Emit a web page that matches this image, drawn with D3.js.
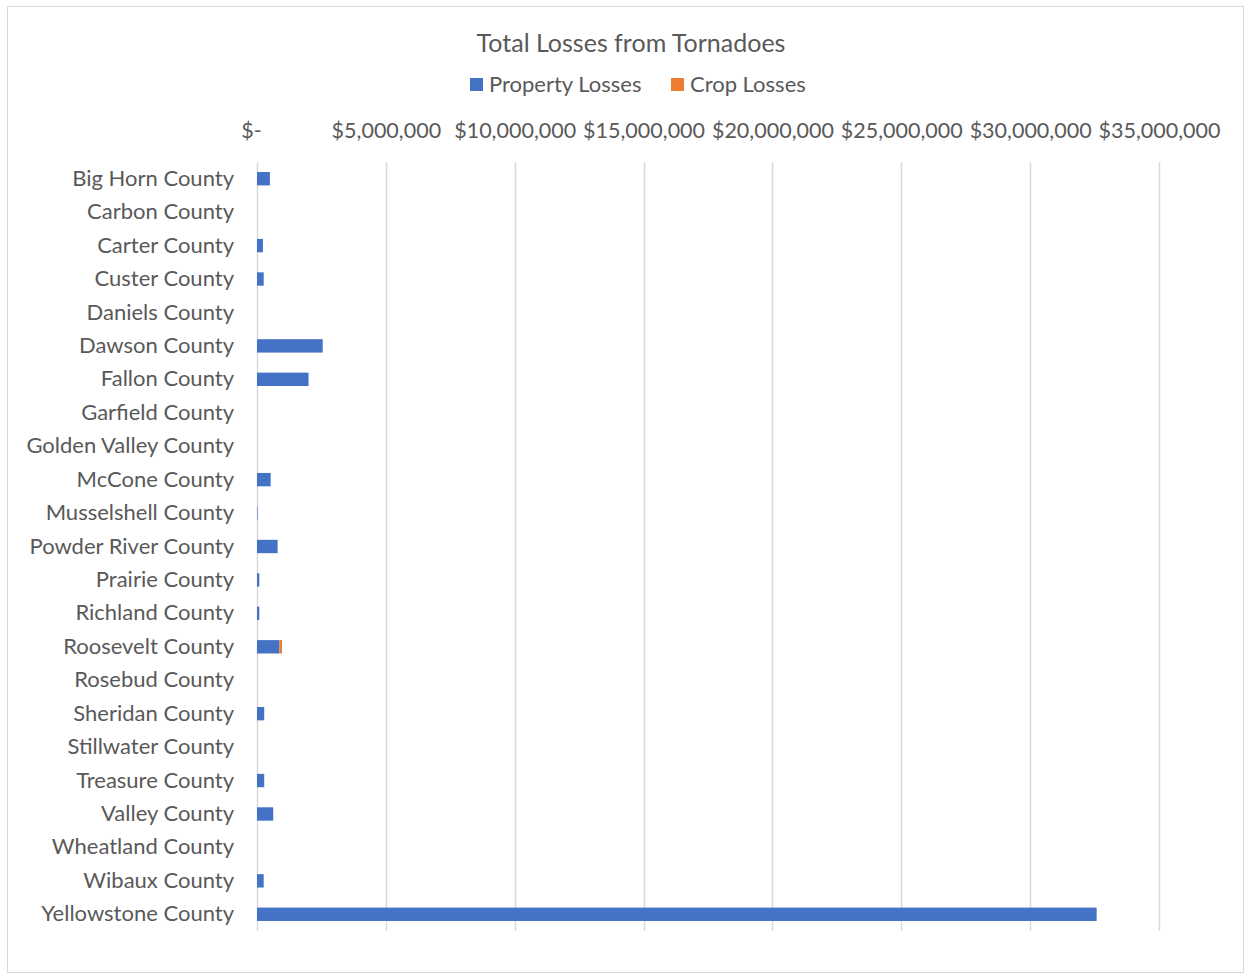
<!DOCTYPE html>
<html>
<head>
<meta charset="utf-8">
<script src="https://cdn.jsdelivr.net/npm/d3@7"></script>
<style>
  body { margin: 0; background: #fff; }
  svg { display: block; }
  text { font-family: "Lato", "Open Sans", sans-serif; fill: #595959; }
</style>
</head>
<body>
<svg id="chart" width="1250" height="979"></svg>
<script>
const categories = ["Big Horn County","Carbon County","Carter County","Custer County","Daniels County","Dawson County","Fallon County","Garfield County","Golden Valley County","McCone County","Musselshell County","Powder River County","Prairie County","Richland County","Roosevelt County","Rosebud County","Sheridan County","Stillwater County","Treasure County","Valley County","Wheatland County","Wibaux County","Yellowstone County"];
const propertyLosses = [500000,0,230000,260000,0,2550000,2000000,0,0,530000,20000,800000,90000,90000,870000,0,280000,0,280000,630000,0,260000,32580000];
const cropLosses = [0,0,0,0,0,0,0,0,0,0,0,0,0,0,100000,0,0,0,0,0,0,0,0];
const tickValues = [0,5000000,10000000,15000000,20000000,25000000,30000000,35000000];
const seriesNames = ["Property Losses","Crop Losses"];
const colors = ["#4472C4","#ED7D31"];

const svg = d3.select("#chart");

// chart border
svg.append("rect").attr("x",7.5).attr("y",6.5).attr("width",1236).attr("height",966)
  .attr("fill","#fff").attr("stroke","#d9d9d9").attr("stroke-width",1);

const x = d3.scaleLinear().domain([0,35000000]).range([257,1159]);
const y = d3.scaleBand().domain(categories).range([162,931]).paddingInner(0.6).paddingOuter(0.3);

// gridlines
svg.append("g").selectAll("line").data(tickValues).join("line")
  .attr("x1",d=>Math.round(x(d))+0.5).attr("x2",d=>Math.round(x(d))+0.5)
  .attr("y1",162).attr("y2",931)
  .attr("stroke","#d9d9d9").attr("stroke-width",1.5);

// top axis labels
const fmt = d3.format("$,");
const axis = d3.axisTop(x).tickValues(tickValues).tickSize(0).tickPadding(0)
  .tickFormat(d => d === 0 ? "$-" : fmt(d));
const ax = svg.append("g").attr("transform","translate(0,138)").call(axis);
ax.select(".domain").remove();
ax.selectAll("text").attr("font-size","21.5px").style("font-family","Lato, sans-serif").attr("fill","#595959")
  .attr("dx", d => d === 0 ? -6 : 0);

// stacked data
const data = categories.map((c,i)=>({cat:c, Property:propertyLosses[i], Crop:cropLosses[i]}));
const stack = d3.stack().keys(["Property","Crop"])(data);

svg.append("g").selectAll("g").data(stack).join("g")
  .attr("fill",(d,i)=>colors[i])
  .selectAll("rect").data(d=>d).join("rect")
  .attr("x",d=>x(d[0]))
  .attr("width",d=>Math.max(0,x(d[1])-x(d[0])))
  .attr("y",d=>y(d.data.cat))
  .attr("height",y.bandwidth());

// y axis labels
const yAxis = d3.axisLeft(y).tickSize(0).tickPadding(0);
const ay = svg.append("g").attr("transform","translate(234,0)").call(yAxis);
ay.select(".domain").remove();
ay.selectAll("text").attr("font-size","22px").style("font-family","Lato, sans-serif").attr("fill","#595959");

// title
svg.append("text").attr("x",631).attr("y",52).attr("text-anchor","middle")
  .attr("font-size","25px").text("Total Losses from Tornadoes");

// legend
const legendX = [470, 671];
const lg = svg.append("g").selectAll("g").data(seriesNames).join("g")
  .attr("transform",(d,i)=>`translate(${legendX[i]},78)`);
lg.append("rect").attr("width",13).attr("height",13).attr("fill",(d,i)=>colors[i]);
lg.append("text").attr("x",19).attr("y",14).attr("font-size","22px").text(d=>d);
</script>
</body>
</html>
